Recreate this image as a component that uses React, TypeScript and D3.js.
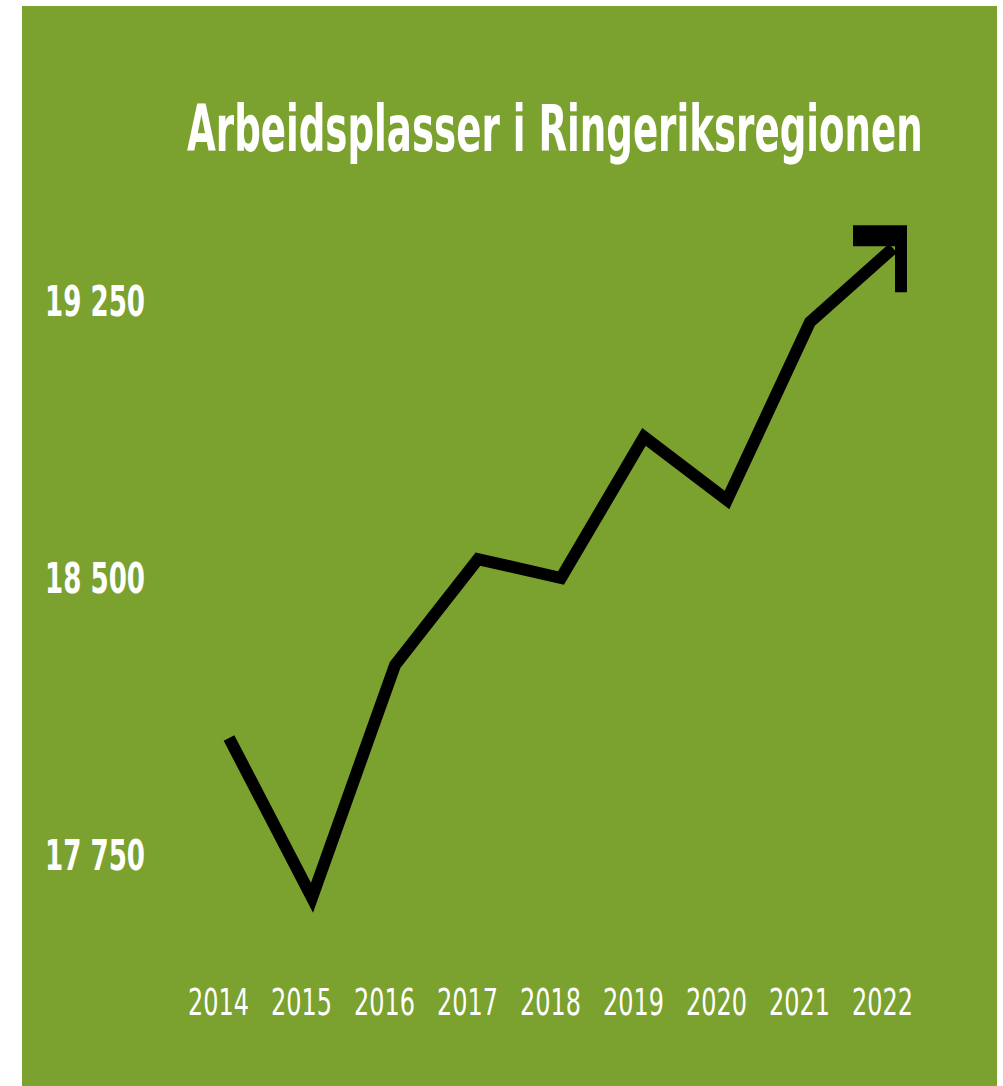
import React, { useEffect, useRef } from "react";
import * as d3 from "d3";

const years = ["2014", "2015", "2016", "2017", "2018", "2019", "2020", "2021", "2022"];
const jobs = [18067, 17634, 18264, 18551, 18500, 18882, 18711, 19193, 19393];
const yTicks = [17750, 18500, 19250];

const title = "Arbeidsplasser i Ringeriksregionen";
const green = "#7ba12e";
const font = "'Liberation Sans Narrow', 'DejaVu Sans Condensed', 'Arial Narrow', sans-serif";

export default function App() {
  const ref = useRef<SVGSVGElement>(null);

  useEffect(() => {
    document.body.style.margin = "0";
    const width = 1003;
    const height = 1086;

    const svg = d3.select(ref.current).attr("width", width).attr("height", height);
    svg.selectAll("*").remove();

    svg
      .append("rect")
      .attr("x", 22)
      .attr("y", 6)
      .attr("width", 975)
      .attr("height", 1080)
      .attr("fill", green);

    // title: squeeze to the reference width with a scale instead of textLength
    const t = svg
      .append("text")
      .attr("x", 0)
      .attr("y", 0)
      .attr("fill", "#fff")
      .attr("font-family", font)
      .attr("font-weight", "bold")
      .attr("font-size", 64)
      .text(title);
    const tw = (t.node() as SVGTextElement).getComputedTextLength() || 736;
    t.attr("transform", `translate(187,151) scale(${736 / tw},1)`);

    const x = d3.scalePoint().domain(years).range([229, 893]);
    const y = d3.scaleLinear().domain([17750, 19250]).range([855, 301]);

    // y labels
    svg
      .append("g")
      .selectAll("text")
      .data(yTicks)
      .enter()
      .append("text")
      .attr("x", 45)
      .attr("y", (d) => y(d) + 15)
      .attr("fill", "#fff")
      .attr("font-family", font)
      .attr("font-weight", "bold")
      .attr("font-size", 43)
      .attr("textLength", 100)
      .attr("lengthAdjust", "spacingAndGlyphs")
      .text((d) => d3.format(",")(d).replace(",", " "));

    // x labels
    svg
      .append("g")
      .selectAll("text")
      .data(years)
      .enter()
      .append("text")
      .attr("x", (d) => (x(d) as number) - 41)
      .attr("y", 1015)
      .attr("fill", "#fff")
      .attr("font-family", font)
      .attr("font-size", 38)
      .attr("textLength", 61)
      .attr("lengthAdjust", "spacingAndGlyphs")
      .text((d) => d);

    const line = d3
      .line<number>()
      .x((_, i) => x(years[i]) as number)
      .y((d) => y(d));

    svg
      .append("path")
      .attr("d", line(jobs))
      .attr("fill", "none")
      .attr("stroke", "#000")
      .attr("stroke-width", 12)
      .attr("stroke-linejoin", "miter")
      .attr("stroke-miterlimit", 10);

    // arrow head at the last point
    const lx = x(years[years.length - 1]) as number;
    const ly = y(jobs[jobs.length - 1]);
    const head = [
      [lx - 40, ly - 23],
      [lx + 14, ly - 23],
      [lx + 14, ly + 44],
      [lx + 2, ly + 44],
      [lx + 2, ly - 2],
      [lx - 40, ly - 2],
    ];
    svg
      .append("polygon")
      .attr("points", head.map((p) => p.join(",")).join(" "))
      .attr("fill", "#000");
  }, []);

  return <svg ref={ref} style={{ display: "block" }} />;
}
